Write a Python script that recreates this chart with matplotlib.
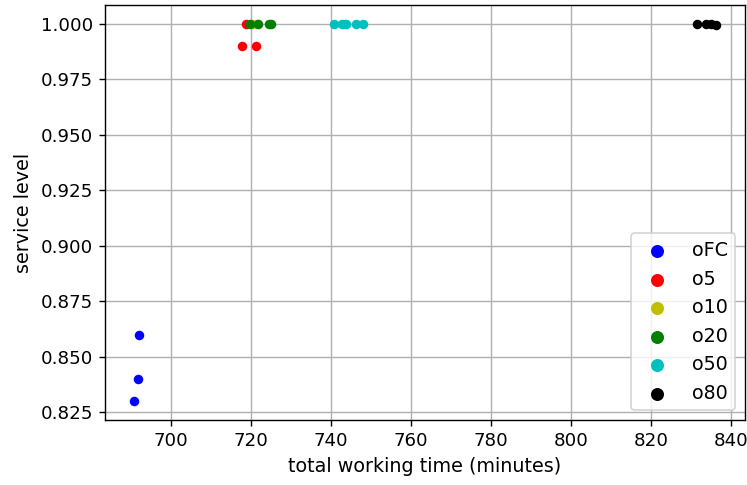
import matplotlib
matplotlib.use("Agg")
import matplotlib.pyplot as plt

# total working time (minutes) / service level for each policy
labels = ["oFC", "o5", "o10", "o20", "o50", "o80"]
colors = ["b", "r", "y", "g", "c", "k"]

time_oFC = [690.7, 691.8, 692.0]
sl_oFC = [0.83, 0.84, 0.86]
time_o5 = [717.6, 721.3, 718.8]
sl_o5 = [0.99, 0.99, 1.0]
time_o10 = [720.2, 721.4]
sl_o10 = [1.0, 1.0]
time_o20 = [719.8, 721.8, 724.4, 725.0]
sl_o20 = [1.0, 1.0, 1.0, 1.0]
time_o50 = [740.8, 742.8, 743.8, 746.3, 747.9]
sl_o50 = [1.0, 1.0, 1.0, 1.0, 1.0]
time_o80 = [831.5, 833.7, 835.0, 836.2]
sl_o80 = [1.0, 1.0, 1.0, 0.9995]

times = [time_oFC, time_o5, time_o10, time_o20, time_o50, time_o80]
levels = [sl_oFC, sl_o5, sl_o10, sl_o20, sl_o50, sl_o80]

fig = plt.figure(figsize=(747 / 125, 485 / 125), dpi=125)
ax = fig.add_axes([105 / 747, 65 / 485, 640 / 747, 415 / 485])

for t, s, lab, c in zip(times, levels, labels, colors):
    ax.scatter(t, s, s=20, color=c, label=lab, zorder=3)

ax.grid(True)
ax.set_axisbelow(True)
ax.tick_params(labelsize=10.5)
ax.set_xlabel("total working time (minutes)", fontsize=11)
ax.set_ylabel("service level", fontsize=11)
ax.set_yticks([0.825, 0.85, 0.875, 0.9, 0.925, 0.95, 0.975, 1.0])
ax.legend(loc="lower right", markerscale=1.45, fontsize=11)

fig.savefig("out.png", dpi=125)
